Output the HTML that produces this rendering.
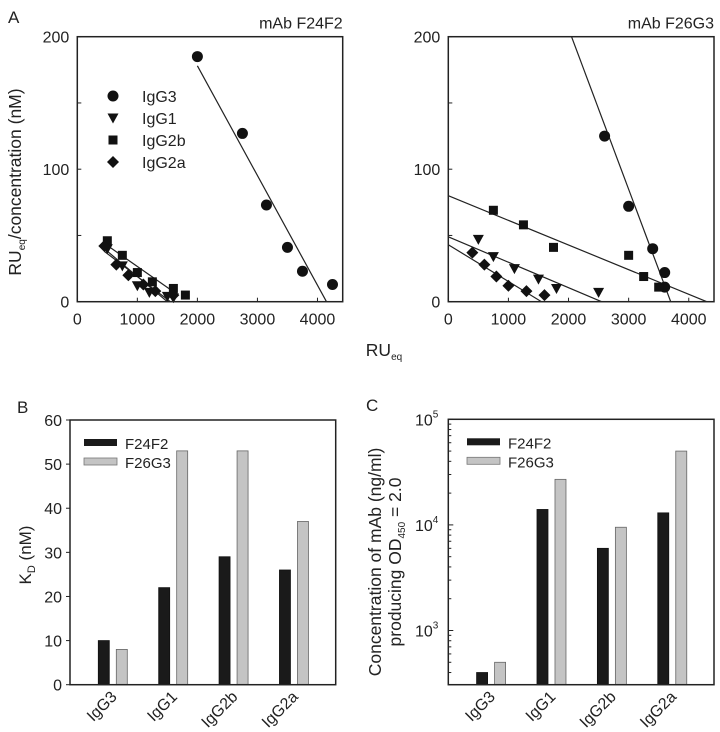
<!DOCTYPE html>
<html><head><meta charset="utf-8">
<style>
html,body{margin:0;padding:0;background:#fff;}
svg{display:block;font-family:"Liberation Sans",Arial,sans-serif;fill:#222;}
text{fill:#222;}
</style></head>
<body>
<svg id="fig" width="720" height="732" viewBox="0 0 720 732" xmlns="http://www.w3.org/2000/svg">
<g id="root"></g>
</svg>
<script>
// ---------- Panel A data ----------
const aXTicks = [0, 1000, 2000, 3000, 4000];
const aYTicks = [0, 100, 200];
const aYMinor = [50, 150];
const seriesNames = ["IgG3", "IgG1", "IgG2b", "IgG2a"];
const seriesMarkers = ["circle", "triangle", "square", "diamond"];
// F24F2 points
const f24_IgG3_x = [2000, 2750, 3150, 3500, 3750, 4250];
const f24_IgG3_y = [185, 127, 73, 41, 23, 13];
const f24_IgG1_x = [500, 750, 1000, 1200, 1500, 1600];
const f24_IgG1_y = [40, 27, 12, 7, 4, 3];
const f24_IgG2b_x = [500, 750, 1000, 1250, 1600, 1800];
const f24_IgG2b_y = [46, 35, 22, 15, 10, 5];
const f24_IgG2a_x = [450, 650, 850, 1100, 1300, 1600];
const f24_IgG2a_y = [42, 28, 20, 13, 8, 5];
// fit lines [x0,y0,x1,y1]
const f24_lines = [[2000,178,4150,0],[450,38,1550,0],[450,44,1650,6],[450,40,1500,0]];
// F26G3 points
const f26_IgG3_x = [2600, 3000, 3400, 3600, 3600];
const f26_IgG3_y = [125, 72, 40, 22, 11];
const f26_IgG1_x = [500, 750, 1100, 1500, 1800, 2500];
const f26_IgG1_y = [47, 34, 25, 17, 10, 7];
const f26_IgG2b_x = [750, 1250, 1750, 3000, 3250, 3500];
const f26_IgG2b_y = [69, 58, 41, 35, 19, 11];
const f26_IgG2a_x = [400, 600, 800, 1000, 1300, 1600];
const f26_IgG2a_y = [37, 28, 19, 12, 8, 5];
const f26_lines = [[2050,200,3700,0],[0,49,2550,0],[0,80,4300,0],[0,43,1550,0]];

// ---------- Panel B / C data ----------
const categories = ["IgG3", "IgG1", "IgG2b", "IgG2a"];
const kdF24F2 = [10, 22, 29, 26];
const kdF26G3 = [8, 53, 53, 37];
const bYTicks = [0, 10, 20, 30, 40, 50, 60];
const concF24F2 = [400, 14000, 6000, 13000];
const concF26G3 = [500, 27000, 9500, 50000];
const cYTicks = [3, 4, 5];

const NS = "http://www.w3.org/2000/svg";
const root = document.getElementById("root");
function el(tag, attrs, parent, txt) {
  const e = document.createElementNS(NS, tag);
  for (const k in attrs) e.setAttribute(k, attrs[k]);
  if (txt !== undefined) e.textContent = txt;
  (parent || root).appendChild(e);
  return e;
}

function marker(g, type, cx, cy) {
  let m;
  if (type === "circle") m = el("circle", {cx: cx, cy: cy, r: 5.5, fill: "#111"}, g);
  else if (type === "square") m = el("rect", {x: cx - 4.5, y: cy - 4.5, width: 9, height: 9, fill: "#111"}, g);
  else if (type === "triangle") m = el("polygon", {points: (cx-5.5)+","+(cy-4.5)+" "+(cx+5.5)+","+(cy-4.5)+" "+cx+","+(cy+5.5), fill: "#111"}, g);
  else m = el("polygon", {points: cx+","+(cy-6)+" "+(cx+6)+","+cy+" "+cx+","+(cy+6)+" "+(cx-6)+","+cy, fill: "#111"}, g);
  return m;
}

function scatterPanel(name, L, R, T, B, title, sets, lines) {
  const g = el("g", {});
  
  
  const xs = v => L + v / 4420 * (R - L);
  const ys = v => B - v / 200 * (B - T);
  const clip = "clip-" + name;
  const cp = el("clipPath", {id: clip}, g);
  el("rect", {x: L, y: T, width: R - L, height: B - T}, cp);
  const lg = el("g", {"clip-path": "url(#" + clip + ")"}, g);
  lines.forEach((ln, i) => {
    const l = el("line", {x1: xs(ln[0]), y1: ys(ln[1]), x2: xs(ln[2]), y2: ys(ln[3]), stroke: "#222", "stroke-width": 1.2}, lg);
    
    
  });
  sets.forEach((s, i) => {
    const sg = el("g", {}, g);
    
    
    s[0].forEach((x, j) => {
      const m = marker(sg, seriesMarkers[i], xs(x), ys(s[1][j]));
      
      
    });
  });
  const fr = el("rect", {x: L, y: T, width: R - L, height: B - T, fill: "none", stroke: "#222", "stroke-width": 1.5}, g);
  
  
  aXTicks.forEach(t => {
    el("line", {x1: xs(t), y1: B, x2: xs(t), y2: B - 4, stroke: "#222"}, g);
    const tx = el("text", {x: xs(t), y: B + 23, "text-anchor": "middle", "font-size": 16}, g, String(t));
    
    
  });
  aYTicks.forEach(t => {
    el("line", {x1: L, y1: ys(t), x2: L + 4, y2: ys(t), stroke: "#222"}, g);
    const tx = el("text", {x: L - 8, y: ys(t) + 6, "text-anchor": "end", "font-size": 16}, g, String(t));
    
    
  });
  aYMinor.forEach(t => el("line", {x1: L, y1: ys(t), x2: L + 4, y2: ys(t), stroke: "#222"}, g));
  const tt = el("text", {x: R, y: T - 8, "text-anchor": "end", "font-size": 16}, g, title);
  
  
}

scatterPanel("scatter-f24f2", 77.3, 342.7, 36.7, 301.7, "mAb F24F2",
  [[f24_IgG3_x, f24_IgG3_y], [f24_IgG1_x, f24_IgG1_y], [f24_IgG2b_x, f24_IgG2b_y], [f24_IgG2a_x, f24_IgG2a_y]], f24_lines);
scatterPanel("scatter-f26g3", 448.3, 714, 36.7, 301.7, "mAb F26G3",
  [[f26_IgG3_x, f26_IgG3_y], [f26_IgG1_x, f26_IgG1_y], [f26_IgG2b_x, f26_IgG2b_y], [f26_IgG2a_x, f26_IgG2a_y]], f26_lines);

// legend A
const legA = el("g", {});


seriesNames.forEach((n, i) => {
  const y = 96 + i * 22;
  const eg = el("g", {}, legA);
  
  
  marker(eg, seriesMarkers[i], 113, y);
  el("text", {x: 142, y: y + 6, "font-size": 16}, eg, n);
});

// Panel A labels
let t;
t = el("text", {x: 8, y: 23, "font-size": 17}, root, "A");
 
t = el("text", {x: 0, y: 0, "font-size": 17.5, "text-anchor": "middle", transform: "translate(21,182) rotate(-90)"}, root);
 
el("tspan", {}, t, "RU");
el("tspan", {"font-size": 10, dy: 4}, t, "eq");
el("tspan", {dy: -4}, t, "/concentration (nM)");
t = el("text", {x: 384, y: 356, "font-size": 17.5, "text-anchor": "middle"}, root);
 
el("tspan", {}, t, "RU");
el("tspan", {"font-size": 10, dy: 4}, t, "eq");

// ---------- Bar panels ----------
function barPanel(name, L, R, T, B, scale, ticks, tickFmt, s1, s2, legX) {
  const g = el("g", {});
  
  
  const step = (R - L) / 4.4;
  categories.forEach((c, i) => {
    const x0 = L + 28.3 + (i) * step;
    const b1 = el("rect", {x: x0, y: scale(s1[i]), width: 11, height: B - scale(s1[i]), fill: "#1a1a1a", stroke: "#111", "stroke-width": 0.8}, g);
    
    
    const b2 = el("rect", {x: x0 + 18, y: scale(s2[i]), width: 11, height: B - scale(s2[i]), fill: "#c4c4c4", stroke: "#666", "stroke-width": 0.8}, g);
    
    
    const cx = x0 + 14.5;
    const lb = el("text", {x: 0, y: 0, "font-size": 16, "text-anchor": "end", transform: "translate(" + (cx + 5) + "," + (B + 13) + ") rotate(-45)"}, g, c);
    
    
  });
  const fr = el("rect", {x: L, y: T, width: R - L, height: B - T, fill: "none", stroke: "#222", "stroke-width": 1.5}, g);
  
  
  tickFmt(g);
  const lg = el("g", {}, g);
  
  
  const e1 = el("g", {}, lg);
   
  el("rect", {x: legX, y: T + 19, width: 33, height: 7, fill: "#1a1a1a"}, e1);
  el("text", {x: legX + 41, y: T + 29, "font-size": 15}, e1, "F24F2");
  const e2 = el("g", {}, lg);
   
  el("rect", {x: legX, y: T + 38, width: 33, height: 7, fill: "#c4c4c4", stroke: "#777", "stroke-width": 0.8}, e2);
  el("text", {x: legX + 41, y: T + 48, "font-size": 15}, e2, "F26G3");
}

// Panel B
const bL = 70, bR = 335.7, bT = 420, bB = 684.7;
const bScale = v => bB - v / 60 * (bB - bT);
barPanel("bar-chart-kd", bL, bR, bT, bB, bScale, bYTicks, g => {
  bYTicks.forEach(v => {
    el("line", {x1: bL, y1: bScale(v), x2: bL - 4, y2: bScale(v), stroke: "#222"}, g);
    const tx = el("text", {x: bL - 8, y: bScale(v) + 6, "text-anchor": "end", "font-size": 16}, g, String(v));
     
  });
}, kdF24F2, kdF26G3, 84);
t = el("text", {x: 17, y: 413, "font-size": 17}, root, "B");
 
t = el("text", {x: 0, y: 0, "font-size": 17, "text-anchor": "middle", transform: "translate(31,555) rotate(-90)"}, root);
 
el("tspan", {}, t, "K");
el("tspan", {"font-size": 11, dy: 4}, t, "D");
el("tspan", {dy: -4}, t, " (nM)");

// Panel C
const cL = 448.3, cR = 714, cT = 419.3, cB = 684.7;
const cScale = v => cT + (5 - Math.log10(v)) * 105.6;
barPanel("bar-chart-concentration", cL, cR, cT, cB, cScale, cYTicks, g => {
  cYTicks.forEach(e => {
    const y = cScale(Math.pow(10, e));
    el("line", {x1: cL, y1: y, x2: cL + 5, y2: y, stroke: "#222"}, g);
    const tx = el("text", {x: cL - 10, y: y + 6, "text-anchor": "end", "font-size": 16}, g);
     
    el("tspan", {}, tx, "10");
    el("tspan", {"font-size": 10, dy: -8}, tx, String(e));
  });
  for (let d = 2; d <= 4; d++) for (let m = 2; m <= 9; m++) {
    const v = m * Math.pow(10, d);
    const y = cScale(v);
    if (y > cB || y < cT) continue;
    el("line", {x1: cL, y1: y, x2: cL + 3, y2: y, stroke: "#222"}, g);
  }
}, concF24F2, concF26G3, 467);
t = el("text", {x: 366, y: 411, "font-size": 17}, root, "C");
 
t = el("text", {x: 0, y: 0, "font-size": 17.5, "text-anchor": "middle", transform: "translate(381,562) rotate(-90)"}, root, "Concentration of mAb (ng/ml)");
 
t = el("text", {x: 0, y: 0, "font-size": 17.5, "text-anchor": "middle", transform: "translate(401,562) rotate(-90)"}, root);
 
el("tspan", {}, t, "producing OD");
el("tspan", {"font-size": 10, dy: 4}, t, "450");
el("tspan", {dy: -4}, t, " = 2.0");
</script>
</body></html>
